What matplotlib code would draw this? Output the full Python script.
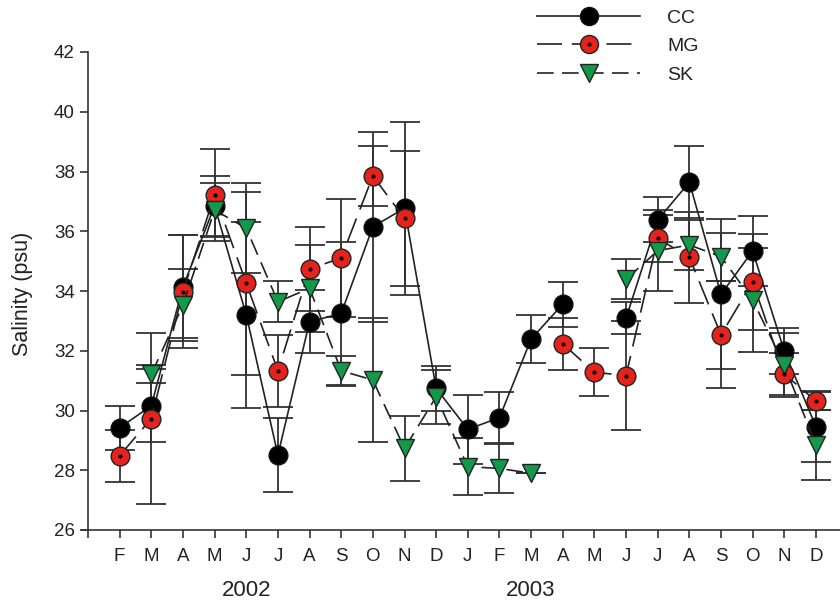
import numpy as np
import matplotlib
matplotlib.use("Agg")
import matplotlib.pyplot as plt
from matplotlib.lines import Line2D
from matplotlib.transforms import blended_transform_factory

plt.rcParams["font.family"] = ["Liberation Sans", "DejaVu Sans"]
plt.rcParams["lines.scale_dashes"] = False

months = ["F", "M", "A", "M", "J", "J", "A", "S", "O", "N", "D",
          "J", "F", "M", "A", "M", "J", "J", "A", "S", "O", "N", "D"]
years = ["2002", "2003"]
nan = np.nan

# mean salinity per station
cc = [29.42, 30.16, 34.14, 36.85, 33.2, 28.51, 32.97, 33.25, 36.15, 36.77, 30.74,
      29.37, 29.76, 32.39, 33.56, nan, 33.09, 36.38, 37.64, 33.89, 35.34, 31.99, 29.46]
mg = [28.49, 29.73, 33.98, 37.21, 34.26, 31.33, 34.73, 35.11, 37.85, 36.43, nan,
      nan, nan, nan, 32.23, 31.28, 31.17, 35.76, 35.13, 32.53, 34.31, 31.22, 30.32]
sk = [nan, 31.21, 33.53, 36.71, 36.1, 33.64, 34.09, 31.33, 31.02, 28.73, 30.46,
      28.12, 28.06, 27.9, nan, nan, 34.39, 35.35, 35.54, 35.15, 33.7, 31.52, 28.85]

# error bars
cc_err = [0.73, 1.22, 1.72, 1.0, 3.1, 1.23, 1.06, 2.4, 3.18, 2.9, 0.75,
          1.15, 0.85, 0.8, 0.75, nan, 0.53, 0.75, 1.21, 2.51, 1.17, 0.76, 1.2]
mg_err = [0.87, 2.85, 1.88, 1.55, 3.07, 1.2, 1.4, 1.98, 1.0, 2.27, nan,
          nan, nan, nan, 0.88, 0.8, 1.82, 0.78, 1.52, 1.79, 1.6, 0.7, 0.3]
sk_err = [nan, 0.3, 1.2, 0.9, 1.5, 0.69, 1.45, 0.5, 2.07, 1.1, 0.9,
          0.95, 0.83, 0.0, nan, nan, 0.67, 1.35, 0.84, 0.8, 1.73, 1.06, 1.18]

x = np.arange(1, len(months) + 1)

red = "#e5231d"
green = "#12994a"
lc = "#222222"
ec = "#333333"

fig = plt.figure(figsize=(8.4, 6.04), dpi=100)
ax = fig.add_axes([82 / 840, 74 / 604, 758 / 840, 478 / 604])

# error bars first
for vals, errs in [(cc, cc_err), (mg, mg_err), (sk, sk_err)]:
    ax.errorbar(x, vals, yerr=errs, fmt="none", ecolor=ec, elinewidth=1.3,
                capsize=10.5, capthick=1.3, zorder=1)

ax.plot(x, cc, color=lc, lw=1.2, ls="-", marker="o", ms=13.5,
        mfc="black", mec="#111111", mew=1, zorder=3)
ax.plot(x, mg, color=lc, lw=1.2, ls=(0, (18, 7)), marker="o", ms=13.5,
        mfc=red, mec="#222222", mew=1, zorder=3)
ax.plot(x, mg, ls="none", marker="o", ms=2, mfc="black", mec="black", zorder=4)
ax.plot(x, sk, color=lc, lw=1.2, ls=(0, (12, 6)), marker="v", ms=13.5,
        mfc=green, mec="#222222", mew=1, zorder=3)

ax.set_xlim(-0.19, 23.76)
ax.set_ylim(26, 42)
ax.set_yticks(np.arange(26, 43, 2))
ax.set_xticks(np.arange(0, 24))
ax.set_xticklabels([""] + months)
ax.spines["top"].set_visible(False)
ax.spines["right"].set_visible(False)
ax.spines["left"].set_position(("data", 0))
for s in ["left", "bottom"]:
    ax.spines[s].set_color("#333333")
    ax.spines[s].set_linewidth(1.2)
ax.tick_params(axis="both", direction="out", length=6, width=1.2,
               color="#333333", labelsize=13.5, labelcolor="#222222")
ax.tick_params(axis="x", pad=7)
ax.set_ylabel("Salinity (psu)", fontsize=15.5, color="#222222")
ax.yaxis.set_label_coords(-0.064, 0.494)

tr = blended_transform_factory(ax.transData, fig.transFigure)
ax.text(5, 14 / 604, years[0], transform=tr, ha="center", va="center",
        fontsize=16, color="#222222")
ax.text(14, 14 / 604, years[1], transform=tr, ha="center", va="center",
        fontsize=16, color="#222222")

h_cc = Line2D([], [], color=lc, lw=1.2, marker="o", ms=13, mfc="black", mec="#111111")
h_mg = Line2D([], [], color=lc, lw=1.2, ls=(0, (18, 7)), marker="o", ms=13,
              mfc=red, mec="#222222")
h_dot = Line2D([], [], ls="none", marker="o", ms=2, mfc="black", mec="black")
h_sk = Line2D([], [], color=lc, lw=1.2, ls=(0, (12, 6)), marker="v", ms=13,
              mfc=green, mec="#222222")
fig.legend([h_cc, (h_mg, h_dot), h_sk], ["CC", "MG", "SK"],
           loc="upper left", bbox_to_anchor=(537 / 840, 1 - 9 / 604),
           frameon=False, fontsize=14, handlelength=5.3, handletextpad=1.39,
           labelspacing=0.57, borderpad=0, borderaxespad=0, numpoints=1,
           labelcolor="#222222")

fig.savefig("out.png", dpi=100)
